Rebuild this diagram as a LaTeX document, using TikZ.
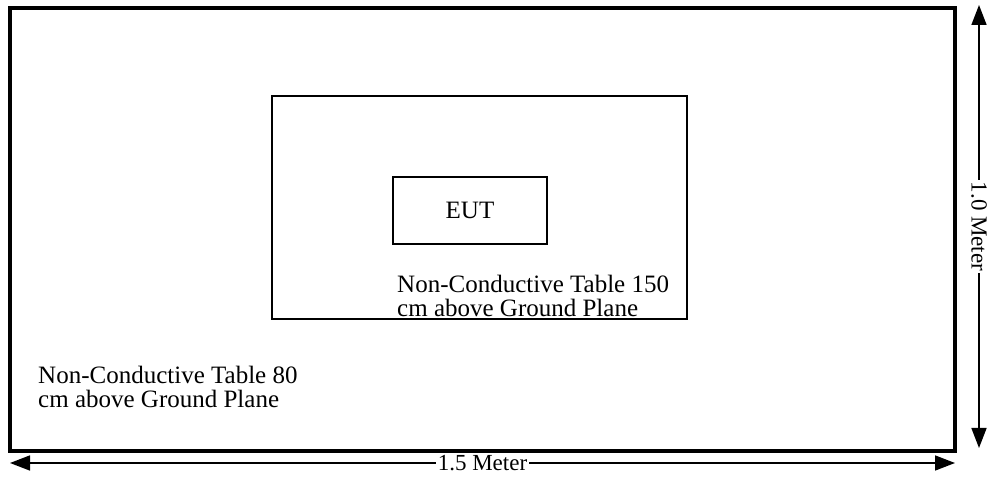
\documentclass[tikz,border=0pt]{standalone}
\usepackage{fontspec}
\setmainfont{Liberation Serif}
\usetikzlibrary{arrows.meta}

\tikzset{
	label/.style = {inner sep=0pt, align=left, font=\fontsize{25}{24}\selectfont},
	measure/.style = {{Triangle[length=20pt,width=15pt]}-{Triangle[length=20pt,width=15pt]}, line width=1.6pt},
	meter/.style = {fill=white, inner sep=1.5pt, font=\fontsize{23}{23}\selectfont}
}

\begin{document}
\begin{tikzpicture}[x=1pt, y=1pt]
		\useasboundingbox (0,0) rectangle (987,481);

		% tables, seen from above
		\draw [line width=3.5pt] (10,30) rectangle (955,473);
		\draw [line width=1.3pt] (272,162) rectangle (687,385);

		\node [draw, line width=1.3pt, minimum width=154pt, minimum height=67pt, inner sep=0pt,
			font=\fontsize{25}{24}\selectfont] (eut) at (470,270.5) {EUT};

		\node [label, anchor=north west] (high) at (397,206) {Non-Conductive Table 150\\cm above Ground Plane};
		\node [label, anchor=north west] (low) at (38,115) {Non-Conductive Table 80\\cm above Ground Plane};

		% dimensions
		\coordinate (wl) at (10,18);
		\coordinate (wr) at (955,18);
		\coordinate (ht) at (979,476);
		\coordinate (hb) at (979,33);

		\draw [measure] (wl) -- (wr) node [meter, midway] (width) {1.5 Meter};
		\draw [measure] (ht) -- (hb) node [meter, midway, rotate=-90] (height) {1.0 Meter};
	\end{tikzpicture}
\end{document}
